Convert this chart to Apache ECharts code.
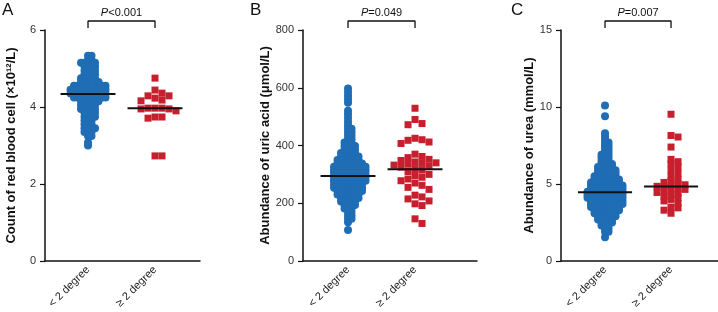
<!DOCTYPE html>
<html lang="en">
<head>
    <meta charset="UTF-8">
    <script src="https://cdn.jsdelivr.net/npm/echarts@6/dist/echarts.min.js"></script>
    <style>
        * { margin: 0; padding: 0; }
        body { background: #fff; }
        #chart { width: 718px; height: 312px; }
    </style>
</head>
<body>
<div id="chart"></div>

<script>
    const cats = ['< 2 degree', '≥ 2 degree'];
    const letters = ['A', 'B', 'C'];
    const yNames = ['Count of red blood cell (×10¹²/L)', 'Abundance of uric acid (μmol/L)', 'Abundance of urea (mmol/L)'];
    const pTexts = ['<0.001', '=0.049', '=0.007'];
    const yMax = [6, 800, 15];
    const yStep = [2, 200, 5];

    // panel A - red blood cell
    const aBlueLevels = [5.33, 5.22, 5.15, 5.05, 4.95, 4.85, 4.75, 4.65, 4.55, 4.45, 4.35, 4.25, 4.15, 4.05, 3.95, 3.85, 3.75, 3.65, 3.55, 3.45, 3.35, 3.25, 3.08, 3.0];
    const aBlueCounts = [2, 2, 3, 4, 4, 4, 5, 6, 10, 11, 11, 10, 6, 5, 5, 4, 4, 3, 3, 4, 3, 2, 1, 1];
    const aRed = [4.75, 4.44, 4.36, 4.29, 4.29, 4.23, 4.18, 4.16, 3.97, 3.97, 3.97, 3.95, 3.95, 3.9, 3.74, 3.74, 3.71, 2.73, 2.73];
    const aMeans = [4.34, 3.97];

    // panel B - uric acid
    const bBlueLevels = [597, 585, 572, 560, 548, 520, 508, 495, 482, 470, 458, 446, 434, 422, 410, 398, 386, 374, 362, 350, 338, 326, 314, 302, 290, 278, 266, 254, 242, 230, 218, 206, 194, 182, 170, 158, 146, 134, 107];
    const bBlueCounts = [1, 1, 1, 1, 1, 1, 1, 1, 1, 1, 2, 2, 2, 2, 3, 4, 4, 5, 6, 7, 8, 10, 10, 10, 10, 10, 9, 9, 8, 7, 6, 5, 4, 3, 2, 2, 2, 1, 1];
    const bRed = [529, 490, 476, 472, 425, 420, 418, 412, 407, 370, 362, 358, 352, 348, 343, 340, 338, 335, 332, 328, 325, 320, 315, 310, 300, 296, 290, 284, 278, 270, 262, 255, 248, 228, 222, 215, 208, 198, 192, 146, 130];
    const bMeans = [294, 318];

    // panel C - urea
    const cBlueLevels = [10.1, 9.4, 8.3, 8.1, 7.9, 7.7, 7.5, 7.3, 7.1, 6.9, 6.7, 6.5, 6.3, 6.1, 5.9, 5.7, 5.5, 5.3, 5.1, 4.9, 4.7, 4.5, 4.3, 4.1, 3.9, 3.7, 3.5, 3.3, 3.1, 2.9, 2.7, 2.5, 2.3, 2.1, 1.9, 1.55];
    const cBlueCounts = [1, 1, 1, 1, 1, 2, 2, 2, 2, 3, 3, 3, 4, 5, 6, 6, 7, 8, 9, 10, 10, 11, 11, 11, 10, 10, 9, 8, 7, 6, 5, 4, 3, 2, 2, 1];
    const cRed = [9.53, 8.15, 8.05, 7.4, 6.6, 6.45, 6.3, 6.1, 5.9, 5.7, 5.5, 5.3, 5.2, 5.1, 5.0, 4.95, 4.9, 4.85, 4.8, 4.7, 4.65, 4.6, 4.5, 4.45, 4.4, 4.3, 4.2, 4.1, 4.0, 3.9, 3.75, 3.5, 3.45, 3.3, 3.1];
    const cMeans = [4.46, 4.83];

    const BLUE = '#1f6db5';
    const RED = '#c6202e';

    // layout of the three panels (pixels)
    const grids = [
        {left: 45, top: 30, width: 155, height: 231},
        {left: 303, top: 30, width: 174, height: 231},
        {left: 561, top: 30, width: 157, height: 231}
    ];
    const xMin = [-0.642, -0.672, -0.667];
    const pxPerCat = [67, 67, 66];
    const nameGaps = [27, 31, 22];
    const redRowH = [6.5, 6.5, 4.2];

    const expand = (levels, counts) => {
        const out = [];
        levels.forEach((v, i) => { for (let k = 0; k < counts[i]; k++) out.push(v); });
        return out;
    };

    // simple beeswarm: put each point at the closest free slot to the centre
    const swarm = (vals, idx, p, s, h) => {
        const ky = grids[p].height / yMax[p];
        const kx = pxPerCat[p];
        const placed = [];
        const sorted = vals.slice().sort((a, b) => b - a);
        return sorted.map(v => {
            const y = v * ky;
            let off = 0;
            for (let k = 0; k < 40; k++) {
                const cands = k === 0 ? [0] : [k * s, -k * s];
                const free = cands.find(c => !placed.some(q => Math.abs(q[1] - y) < h && Math.abs(q[0] - c) < s * 0.99));
                if (free !== undefined) { off = free; break; }
            }
            placed.push([off, y]);
            return [idx + off / kx, v];
        });
    };

    const panels = [
        {blue: expand(aBlueLevels, aBlueCounts), red: aRed, means: aMeans},
        {blue: expand(bBlueLevels, bBlueCounts), red: bRed, means: bMeans},
        {blue: expand(cBlueLevels, cBlueCounts), red: cRed, means: cMeans}
    ];

    const chart = echarts.init(document.getElementById('chart'), null, {renderer: 'canvas'});

    const xAxes = [], yAxes = [], series = [];
    panels.forEach((pn, p) => {
        xAxes.push({
            type: 'value', gridIndex: p,
            min: xMin[p], max: xMin[p] + grids[p].width / pxPerCat[p],
            axisLine: {onZero: false, lineStyle: {color: '#111', width: 1.5}},
            axisTick: {show: false},
            splitLine: {show: false},
            axisLabel: {
                customValues: [0, 1],
                formatter: v => cats[Math.round(v)],
                rotate: 45, fontSize: 11, color: '#222', margin: 7,
                fontFamily: 'Liberation Sans, Arial, sans-serif'
            }
        });
        yAxes.push({
            type: 'value', gridIndex: p, min: 0, max: yMax[p], interval: yStep[p],
            name: yNames[p], nameLocation: 'middle', nameGap: nameGaps[p],
            nameTextStyle: {fontSize: 13, fontWeight: 'bold', color: '#111', fontFamily: 'Liberation Sans, Arial, sans-serif'},
            axisLine: {show: true, onZero: false, lineStyle: {color: '#111', width: 1.5}},
            axisTick: {show: true, length: 5, lineStyle: {color: '#111', width: 1.2}},
            splitLine: {show: false},
            axisLabel: {fontSize: 11, color: '#333', margin: 9, fontFamily: 'Liberation Sans, Arial, sans-serif'}
        });
        series.push({
            type: 'scatter', xAxisIndex: p, yAxisIndex: p, symbol: 'circle', symbolSize: 8,
            itemStyle: {color: BLUE, opacity: 1}, data: swarm(pn.blue, 0, p, 3.5, 3), silent: true
        });
        series.push({
            type: 'scatter', xAxisIndex: p, yAxisIndex: p, symbol: 'rect', symbolSize: 7,
            itemStyle: {color: RED, opacity: 1}, data: swarm(pn.red, 1, p, 7, redRowH[p]), silent: true
        });
        pn.means.forEach((m, i) => {
            series.push({
                type: 'line', xAxisIndex: p, yAxisIndex: p, symbol: 'none', silent: true, z: 5,
                lineStyle: {color: '#111', width: 2},
                data: [[i - 0.41, m], [i + 0.41, m]]
            });
        });
        const top = yMax[p] * (1 + 9 / 231), leg = yMax[p] * (1 + 2 / 231);
        series.push({
            type: 'line', xAxisIndex: p, yAxisIndex: p, symbol: 'none', silent: true, clip: false,
            lineStyle: {color: '#111', width: 1.3},
            data: [[0, leg], [0, top], [1, top], [1, leg]]
        });
    });

    chart.setOption({
        animation: false,
        grid: grids,
        xAxis: xAxes,
        yAxis: yAxes,
        series: series
    });

    const graphics = [];
    grids.forEach((g, p) => {
        const mid = chart.convertToPixel({gridIndex: p}, [0.5, yMax[p] * (1 + 9 / 231)]);
        graphics.push({
            type: 'text', x: mid[0], y: mid[1] - 3,
            style: {
                text: '{i|P}' + pTexts[p], align: 'center', verticalAlign: 'bottom',
                font: '11px Liberation Sans, Arial, sans-serif', fill: '#111',
                rich: {i: {fontStyle: 'italic', fontSize: 11, fontFamily: 'Liberation Sans, Arial, sans-serif', fill: '#111'}}
            }
        });
    });
    [2, 250, 511].forEach((x, i) => {
        graphics.push({
            type: 'text', x: x, y: 2,
            style: {text: letters[i], font: '17px Liberation Sans, Arial, sans-serif', fill: '#111'}
        });
    });
    chart.setOption({graphic: graphics});
</script>
</body>
</html>
